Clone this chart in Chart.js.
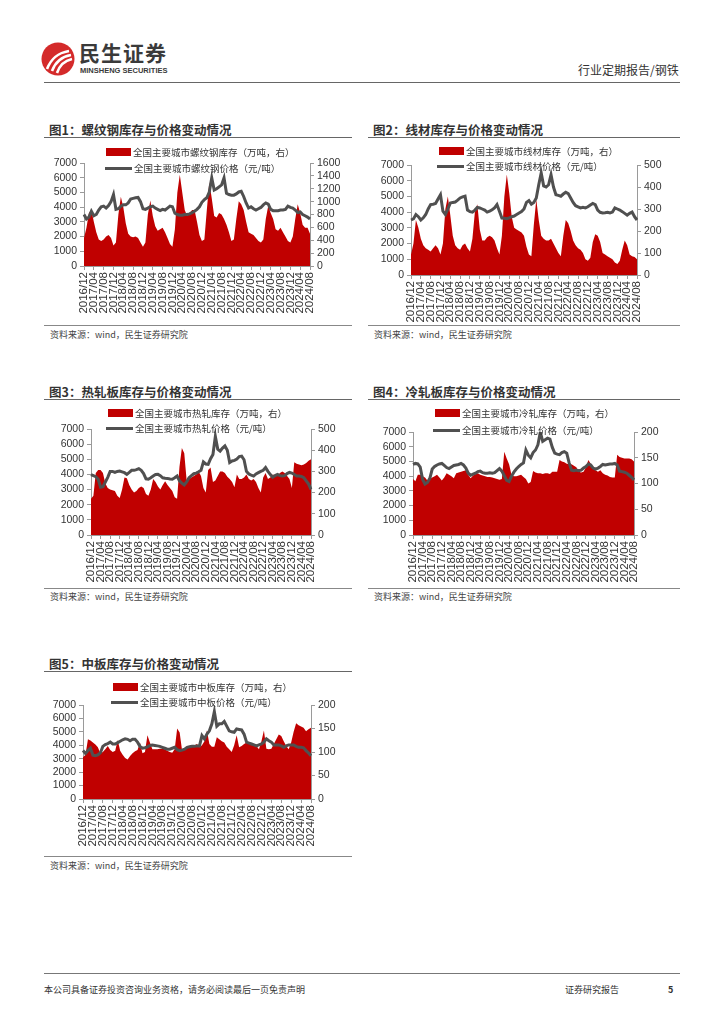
<!DOCTYPE html>
<html lang="zh-CN">
<head>
<meta charset="UTF-8">
<title>钢铁库存与价格变动情况</title>
<script src="https://cdn.jsdelivr.net/npm/chart.js"></script>
<style>
  body { margin: 0; background: #fff; font-family: "Noto Sans CJK SC", sans-serif; color: #333; }
  .page { position: relative; width: 724px; height: 1024px; overflow: hidden; }
  .abs { position: absolute; white-space: nowrap; }
  .title { font-size: 12.5px; font-weight: bold; color: #333; line-height: 14px; }
  .rule { position: absolute; height: 0; border-top: 1.5px solid #666; }
  .thin { border-top: 1px solid #888; }
  .src { font-size: 9px; color: #444; line-height: 12px; }
  .leg { position: absolute; font-size: 9.5px; color: #333; white-space: nowrap; line-height: 12px; }
  .leg i { display: inline-block; vertical-align: middle; margin-right: 2px; position: relative; top: -1px; }
  .box { width: 25px; height: 8px; background: #c00000; }
  .ln { width: 27px; height: 3px; background: #505050; }
  canvas { position: absolute; }
</style>
</head>
<body>
<div class="page">
  <!-- header -->
  <svg class="abs" style="left:41px;top:42px" width="34" height="34" viewBox="0 0 34 34">
    <circle cx="17" cy="17" r="16.5" fill="#d42a2a"/>
    <path d="M6 27 C10 17 16 11 28 9" stroke="#fff" stroke-width="2.6" fill="none"/>
    <path d="M11 29 C14 21 19 15 30 13" stroke="#fff" stroke-width="2.6" fill="none"/>
    <path d="M16 31 C18 25 22 19 31 17" stroke="#fff" stroke-width="2.6" fill="none"/>
  </svg>
  <div class="abs" style="left:79px;top:39px;font-size:21px;font-weight:bold;color:#3a3a3a;letter-spacing:1px;line-height:26px">民生证券</div>
  <div class="abs" style="left:80px;top:66px;font-size:7.5px;font-weight:bold;color:#3a3a3a;line-height:9px;font-family:'Liberation Sans',sans-serif">MINSHENG SECURITIES</div>
  <div class="abs" style="left:578px;top:62px;font-size:12px;color:#333;line-height:16px">行业定期报告/钢铁</div>
  <div class="rule" style="left:44px;top:82px;width:636px;border-top:1.5px solid #666"></div>

  <!-- panel 1 -->
  <div class="abs title" style="left:49px;top:123px">图1：螺纹钢库存与价格变动情况</div>
  <div class="rule" style="left:44px;top:137px;width:308px"></div>
  <canvas id="c1" width="308" height="183" style="left:44px;top:140px"></canvas>
  <div class="leg" style="left:106px;top:146px"><i class="box"></i>全国主要城市螺纹钢库存（万吨，右）</div>
  <div class="leg" style="left:105px;top:162px"><i class="ln"></i>全国主要城市螺纹钢价格（元/吨）</div>
  <div class="rule thin" style="left:44px;top:325px;width:308px"></div>
  <div class="abs src" style="left:50px;top:329px">资料来源：wind，民生证券研究院</div>

  <!-- panel 2 -->
  <div class="abs title" style="left:373px;top:123px">图2：线材库存与价格变动情况</div>
  <div class="rule" style="left:368px;top:137px;width:312px"></div>
  <canvas id="c2" width="312" height="183" style="left:368px;top:140px"></canvas>
  <div class="leg" style="left:439px;top:145px"><i class="box"></i>全国主要城市线材库存（万吨，右）</div>
  <div class="leg" style="left:437px;top:160px"><i class="ln"></i>全国主要城市线材价格（元/吨）</div>
  <div class="rule thin" style="left:368px;top:325px;width:312px"></div>
  <div class="abs src" style="left:374px;top:329px">资料来源：wind，民生证券研究院</div>

  <!-- panel 3 -->
  <div class="abs title" style="left:49px;top:385px">图3：热轧板库存与价格变动情况</div>
  <div class="rule" style="left:44px;top:399px;width:308px"></div>
  <canvas id="c3" width="308" height="185" style="left:44px;top:401px"></canvas>
  <div class="leg" style="left:108px;top:407px"><i class="box"></i>全国主要城市热轧库存（万吨，右）</div>
  <div class="leg" style="left:106px;top:422px"><i class="ln"></i>全国主要城市热轧价格（元/吨）</div>
  <div class="rule thin" style="left:44px;top:588px;width:308px"></div>
  <div class="abs src" style="left:50px;top:591px">资料来源：wind，民生证券研究院</div>

  <!-- panel 4 -->
  <div class="abs title" style="left:373px;top:385px">图4：冷轧板库存与价格变动情况</div>
  <div class="rule" style="left:368px;top:399px;width:312px"></div>
  <canvas id="c4" width="312" height="185" style="left:368px;top:401px"></canvas>
  <div class="leg" style="left:435px;top:407px"><i class="box"></i>全国主要城市冷轧库存（万吨，右）</div>
  <div class="leg" style="left:433px;top:424px"><i class="ln"></i>全国主要城市冷轧价格（元/吨）</div>
  <div class="rule thin" style="left:368px;top:588px;width:312px"></div>
  <div class="abs src" style="left:374px;top:591px">资料来源：wind，民生证券研究院</div>

  <!-- panel 5 -->
  <div class="abs title" style="left:49px;top:657px">图5：中板库存与价格变动情况</div>
  <div class="rule" style="left:44px;top:671px;width:308px"></div>
  <canvas id="c5" width="308" height="182" style="left:44px;top:673px"></canvas>
  <div class="leg" style="left:113px;top:681px"><i class="box"></i>全国主要城市中板库存（万吨，右）</div>
  <div class="leg" style="left:111px;top:696px"><i class="ln"></i>全国主要城市中板价格（元/吨）</div>
  <div class="rule thin" style="left:44px;top:856px;width:308px"></div>
  <div class="abs src" style="left:50px;top:860px">资料来源：wind，民生证券研究院</div>

  <!-- footer -->
  <div class="rule" style="left:44px;top:973px;width:636px;border-top:1.5px solid #777"></div>
  <div class="abs src" style="left:44px;top:984px;color:#333">本公司具备证券投资咨询业务资格，请务必阅读最后一页免责声明</div>
  <div class="abs src" style="left:565px;top:984px;color:#333">证券研究报告</div>
  <div class="abs src" style="left:668px;top:984px;color:#333;font-weight:bold">5</div>
</div>

<script>
// months 2016/12 - 2024/08
const months = [
  '2016/12',
  '2017/01','2017/02','2017/03','2017/04','2017/05','2017/06','2017/07','2017/08','2017/09','2017/10','2017/11','2017/12',
  '2018/01','2018/02','2018/03','2018/04','2018/05','2018/06','2018/07','2018/08','2018/09','2018/10','2018/11','2018/12',
  '2019/01','2019/02','2019/03','2019/04','2019/05','2019/06','2019/07','2019/08','2019/09','2019/10','2019/11','2019/12',
  '2020/01','2020/02','2020/03','2020/04','2020/05','2020/06','2020/07','2020/08','2020/09','2020/10','2020/11','2020/12',
  '2021/01','2021/02','2021/03','2021/04','2021/05','2021/06','2021/07','2021/08','2021/09','2021/10','2021/11','2021/12',
  '2022/01','2022/02','2022/03','2022/04','2022/05','2022/06','2022/07','2022/08','2022/09','2022/10','2022/11','2022/12',
  '2023/01','2023/02','2023/03','2023/04','2023/05','2023/06','2023/07','2023/08','2023/09','2023/10','2023/11','2023/12',
  '2024/01','2024/02','2024/03','2024/04','2024/05','2024/06','2024/07','2024/08'
];

// rebar
const rebarStock = [1900,
  2600,3600,3800,3000,2300,1800,1700,1800,2000,2100,1900,1400,
  1600,3500,4700,4000,2900,2200,2000,1950,2000,1900,1600,1300,
  1600,3500,4450,3400,2700,2400,2500,2600,2300,1900,1500,1300,
  2500,5000,6200,5000,3800,3400,3600,3800,3800,3000,2100,1700,
  1800,3800,5700,4600,3400,3300,3600,3500,3200,2800,2300,1700,
  1800,3200,4400,4200,3800,3000,2300,2200,2100,1900,1700,1600,
  1800,3200,4100,3600,3200,2500,2400,2600,2300,2000,1700,1600,
  2000,3200,4200,3600,2800,2600,2600,2200];
const rebarPrice = [800,
  730,760,850,780,800,870,920,930,900,940,1000,1110,
  880,890,930,950,950,980,1040,1050,1060,1065,1000,890,
  880,900,920,930,900,880,860,880,870,900,930,920,
  820,800,790,790,800,800,810,830,850,880,920,990,
  1030,1060,1150,1370,1180,1200,1230,1260,1370,1130,1110,1100,
  1100,1120,1150,1160,1080,980,900,920,890,870,890,910,
  950,980,960,880,860,860,860,870,870,880,930,910,
  900,870,830,840,800,780,760,730];

// wire rod
const wireStock = [1300,
  2000,3500,3000,2300,1900,1700,1600,1500,1700,1900,1700,1300,
  2000,4200,5000,3800,2500,1900,1700,1600,1900,2000,1700,1500,
  2300,4000,4500,2900,2200,2200,2400,2500,2400,2200,1700,1300,
  2500,5000,6400,5200,3700,3000,2900,2800,2700,2500,1800,1300,
  1200,3200,4800,3500,2500,2300,2200,2200,2300,2000,1700,1400,
  1200,2500,3500,3300,2800,2200,1900,1700,1600,1400,1000,900,
  1100,2100,2600,2500,2100,1400,1300,1200,1100,1000,800,700,
  900,1600,2200,1900,1300,1200,1150,1000];
const wirePrice = [250,
  255,275,265,250,260,275,300,320,322,325,345,365,
  290,275,300,327,330,332,340,350,355,358,295,288,
  286,295,307,305,300,295,286,290,297,305,320,290,
  259,258,256,260,265,268,275,282,288,300,330,338,
  322,330,350,410,464,405,400,410,456,400,365,362,
  358,368,376,370,350,330,315,310,305,308,305,310,
  318,325,320,295,285,282,283,285,282,286,305,300,
  295,288,280,272,280,286,265,250];

// hot rolled
const hotStock = [2400,
  2600,4100,4300,4300,4100,3400,3100,3000,2950,2900,2600,2450,
  3000,3800,3750,3300,3000,2800,2900,3100,3200,3100,2700,2600,
  3000,3700,3500,3200,3000,3300,3550,3300,3100,2900,2500,2400,
  4500,5750,5400,3600,3700,3800,3900,4000,4200,3900,3100,2800,
  4300,4450,3500,3600,3900,4200,4200,4100,3850,3700,3500,3150,
  4000,3700,3700,3800,4000,3700,3600,3700,3500,3100,2800,3800,
  4100,3700,3800,4000,3950,3900,4100,4200,4100,3900,3700,3100,
  4800,4700,4650,4600,4650,4750,4900,5000];
const hotPrice = [285,
  280,275,263,225,228,250,272,300,300,295,300,302,
  298,294,286,295,305,305,308,313,305,290,265,263,
  270,278,285,286,280,270,268,267,264,263,270,278,
  255,245,236,250,270,280,289,292,298,305,345,335,
  333,360,380,465,405,396,410,420,400,342,349,352,
  358,370,372,355,300,288,282,278,288,294,300,305,
  318,300,285,272,280,286,280,278,280,290,295,292,
  285,278,278,276,270,255,240,215];

// cold rolled
const coldStock = [3800,
  3650,4100,4100,4000,3900,3700,3800,3900,4000,4100,3900,3700,
  3900,4200,4100,4000,3850,4200,4250,4300,4350,4400,4100,3850,
  4050,4150,4200,4100,4050,4000,3950,3950,3900,3850,3800,3750,
  3800,5650,5200,4800,4100,4000,4000,4050,4100,3950,3800,3500,
  3600,4350,4250,4200,4200,4150,4200,4200,4150,4300,4300,4300,
  5100,5000,4950,4850,4800,4800,4700,4600,4300,4250,4300,4600,
  5100,4850,4550,4400,4300,4400,4200,4100,4050,3950,3900,3900,
  5450,5300,5250,5200,5200,5200,5150,5000];
const coldPrice = [137,
  139,138,132,108,99,102,110,128,133,136,138,139,
  135,131,129,132,135,136,137,139,136,130,120,116,
  118,120,123,124,121,120,120,121,120,121,125,129,
  124,115,106,104,114,122,128,133,137,140,165,155,
  150,160,165,175,200,182,185,188,186,170,159,157,
  156,160,162,159,140,126,125,126,125,126,130,133,
  138,136,130,128,130,133,137,136,137,138,138,139,
  136,124,123,122,120,116,112,107];

// medium plate
const plateStock = [3100,
  3300,4450,4350,4200,4050,3850,3400,3500,3700,3950,3650,3500,
  3600,4400,3600,3300,3050,2950,3200,3400,3550,3650,4200,3400,
  3500,4750,4200,3700,3700,3700,3750,3750,3700,3600,3500,3450,
  3700,5250,4950,3600,3700,3800,3850,3950,4000,4100,3850,4000,
  4300,5100,4100,3900,3900,4600,4450,4300,4200,3900,3700,3500,
  4000,4750,3850,3950,4100,4200,4200,4100,4000,3950,3700,4300,
  5100,3750,3700,3750,4100,4450,4800,4700,4300,3950,3700,4200,
  5000,5650,5500,5400,5300,5050,5200,5300];
const platePrice = [103,
  97,103,108,93,92,94,98,112,116,118,121,117,
  117,120,123,126,128,127,124,127,127,121,112,108,
  109,111,114,115,114,113,112,110,108,106,106,108,
  110,105,103,104,106,110,111,112,112,113,113,135,
  128,138,145,160,186,155,160,160,165,155,145,143,
  142,149,148,147,138,121,119,117,115,113,115,117,
  121,128,124,121,115,115,115,113,110,113,115,115,
  115,112,110,110,109,103,98,92];

// axis ticks
const stockTicks = [0,1000,2000,3000,4000,5000,6000,7000];
const rebarPriceTicks = [0,200,400,600,800,1000,1200,1400,1600];
const wirePriceTicks = [0,100,200,300,400,500];
const hotPriceTicks = [0,100,200,300,400,500];
const coldPriceTicks = [0,50,100,150,200];
const platePriceTicks = [0,50,100,150,200];

const tickFont = { family: "'Liberation Sans', 'Noto Sans CJK SC', sans-serif", size: 10.5 };
const axisColor = '#9a9a9a';

function axisFrom(ticks, pos, fitWidth) {
  return {
    position: pos,
    min: ticks[0],
    max: ticks[ticks.length - 1],
    ticks: {
      autoSkip: false, color: '#333', font: tickFont, padding: 3,
      callback: function (v) { return String(v); }
    },
    grid: { drawOnChartArea: false, tickLength: 4, color: axisColor },
    border: { color: axisColor },
    afterBuildTicks: function (s) { s.ticks = ticks.map(function (v) { return { value: v }; }); },
    afterFit: function (s) { s.width = fitWidth; }
  };
}

// plot box given in canvas pixels
function drawPanel(id, stock, price, priceTicks, plot) {
  const cv = document.getElementById(id);
  const W = cv.width, H = cv.height;
  new Chart(cv, {
    type: 'line',
    data: {
      labels: months,
      datasets: [
        { data: price, yAxisID: 'y1', borderColor: '#505050', borderWidth: 3, pointRadius: 0, fill: false, order: 0, tension: 0 },
        { data: stock, yAxisID: 'y', borderWidth: 0, backgroundColor: '#c00000', fill: 'origin', pointRadius: 0, order: 1, tension: 0 }
      ]
    },
    options: {
      responsive: false,
      animation: false,
      events: [],
      layout: { padding: { top: plot.top, left: 0, right: 0, bottom: 0 } },
      plugins: { legend: { display: false }, tooltip: { enabled: false } },
      scales: {
        x: {
          offset: false,
          ticks: {
            autoSkip: false, minRotation: 90, maxRotation: 90, padding: 2,
            color: '#333', font: { family: tickFont.family, size: 11.5 },
            callback: function (v, i) { return i % 4 === 0 ? months[i] : null; }
          },
          grid: { drawOnChartArea: false, tickLength: 4, color: axisColor },
          border: { color: axisColor },
          afterFit: function (s) { s.height = H - plot.bottom; }
        },
        y: axisFrom(stockTicks, 'left', plot.left),
        y1: axisFrom(priceTicks, 'right', W - plot.right)
      }
    }
  });
}

drawPanel('c1', rebarStock, rebarPrice, rebarPriceTicks, { left: 40, right: 266, top: 23, bottom: 126 });
drawPanel('c2', wireStock, wirePrice, wirePriceTicks, { left: 43, right: 269, top: 25, bottom: 135 });
drawPanel('c3', hotStock, hotPrice, hotPriceTicks, { left: 47, right: 267, top: 28, bottom: 134 });
drawPanel('c4', coldStock, coldPrice, coldPriceTicks, { left: 45, right: 266, top: 31, bottom: 134 });
drawPanel('c5', plateStock, platePrice, platePriceTicks, { left: 39, right: 267, top: 32, bottom: 126 });
</script>
</body>
</html>
